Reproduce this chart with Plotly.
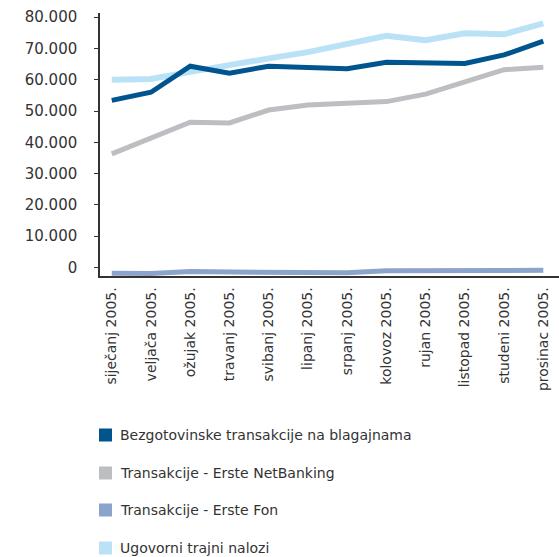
import plotly.graph_objects as go

months = ["siječanj 2005.", "veljača 2005.", "ožujak 2005.", "travanj 2005.",
          "svibanj 2005.", "lipanj 2005.", "srpanj 2005.", "kolovoz 2005.",
          "rujan 2005.", "listopad 2005.", "studeni 2005.", "prosinac 2005."]

bezgotovinske = [53400, 56000, 64300, 62100, 64300, 63900, 63500, 65600, 65400, 65200, 67900, 72300]
netbanking = [36300, 41400, 46400, 46200, 50300, 51900, 52500, 53000, 55400, 59400, 63200, 64000]
erste_fon = [-1800, -1900, -1300, -1400, -1500, -1600, -1700, -1000, -950, -900, -900, -900]
trajni_nalozi = [60000, 60200, 62500, 64800, 66800, 68800, 71400, 74000, 72600, 74800, 74500, 78000]

tick_vals = [0, 10000, 20000, 30000, 40000, 50000, 60000, 70000, 80000]
tick_text = ["0", "10.000", "20.000", "30.000", "40.000", "50.000", "60.000", "70.000", "80.000"]

series = [
    ("Bezgotovinske transakcije na blagajnama", bezgotovinske, "#00558f", 5),
    ("Transakcije - Erste NetBanking", netbanking, "#bdbec2", 5),
    ("Transakcije - Erste Fon", erste_fon, "#8aa4cc", 5),
    ("Ugovorni trajni nalozi", trajni_nalozi, "#bae2f7", 6),
]

W, H = 559, 557
L, R, T, B = 100, 0, 13, 281
PW, PH = W - L - R, H - T - B


def px_to_paper(px, py):
    return (px - L) / PW, (H - B - py) / PH


fig = go.Figure()
for idx in [3, 1, 2, 0]:
    name, vals, color, w = series[idx]
    fig.add_trace(go.Scatter(x=months, y=vals, mode="lines", name=name,
                             line=dict(color=color, width=w), showlegend=False,
                             hoverinfo="skip"))

font_fam = "DejaVu Sans, Lato, sans-serif"
legend_rows = [435, 473, 510, 548]
shapes, annotations = [], []
for (name, vals, color, w), cy in zip(series, legend_rows):
    x0, y0 = px_to_paper(99, cy - 6.5)
    x1, y1 = px_to_paper(112, cy + 6.5)
    shapes.append(dict(type="rect", xref="paper", yref="paper", x0=x0, x1=x1, y0=y1, y1=y0,
                       fillcolor=color, line=dict(width=0)))
    tx, ty = px_to_paper(118, cy)
    annotations.append(dict(xref="paper", yref="paper", x=tx, y=ty, xanchor="left",
                            yanchor="middle", text=name, showarrow=False,
                            font=dict(family=font_fam, size=14, color="#333333")))

fig.update_layout(
    width=W, height=H,
    margin=dict(l=L, r=R, t=T, b=B, pad=0),
    paper_bgcolor="white", plot_bgcolor="white",
    font=dict(family=font_fam, size=14, color="#333333"),
    showlegend=False,
    shapes=shapes, annotations=annotations,
    xaxis=dict(type="category", range=[-0.3, 11.4], showline=True, linecolor="#333333",
               linewidth=1.5, ticks="", tickangle=-90, showgrid=False, zeroline=False,
               automargin=False, tickfont=dict(size=14, color="#333333"),
               ticklabelstandoff=4),
    yaxis=dict(range=[-2700, 81300], showline=True, linecolor="#333333", linewidth=1.5,
               ticks="outside", ticklen=4, tickcolor="#333333", tickvals=tick_vals,
               ticktext=tick_text, showgrid=False, zeroline=False, automargin=False,
               tickfont=dict(size=15, color="#333333"), ticklabelstandoff=14),
)

fig.write_html("out.html", config={"displayModeBar": False},
               post_script="document.body.style.margin='0';document.body.style.padding='0';"
                           "document.body.style.overflow='hidden';")
